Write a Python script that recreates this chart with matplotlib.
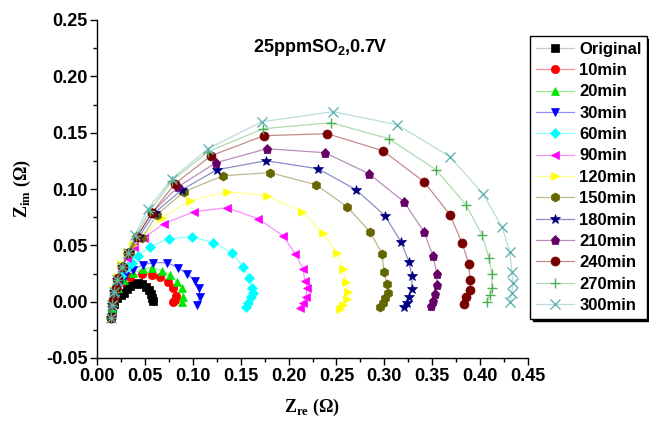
import matplotlib
matplotlib.use("Agg")
import matplotlib.pyplot as plt
from matplotlib.colors import to_rgba
from matplotlib.ticker import MultipleLocator, FormatStrFormatter

plt.rcParams['mathtext.fontset'] = 'custom'
plt.rcParams['mathtext.rm'] = 'Liberation Serif'
plt.rcParams['mathtext.bf'] = 'Liberation Serif:bold'

labels = ['Original', '10min', '20min', '30min', '60min', '90min', '120min',
          '150min', '180min', '210min', '240min', '270min', '300min']

x_orig = [0.0146, 0.0157, 0.0177, 0.0209, 0.0250, 0.0282, 0.0313, 0.0344, 0.0386, 0.0428, 0.0470, 0.0511, 0.0543, 0.0564, 0.0574, 0.0585]
y_orig = [-0.0142, -0.0080, -0.0018, 0.0035, 0.0062, 0.0080, 0.0115, 0.0142, 0.0160, 0.0169, 0.0160, 0.0133, 0.0106, 0.0071, 0.0035, 0.0009]

x_10 = [0.0146, 0.0157, 0.0177, 0.0209, 0.0261, 0.0344, 0.0470, 0.0574, 0.0658, 0.0741, 0.0793, 0.0825, 0.0814, 0.0793]
y_10 = [-0.0142, -0.0053, 0.0035, 0.0115, 0.0177, 0.0222, 0.0248, 0.0240, 0.0222, 0.0177, 0.0124, 0.0053, 0.0018, 0.0000]

x_20 = [0.0146, 0.0157, 0.0177, 0.0219, 0.0282, 0.0376, 0.0480, 0.0574, 0.0678, 0.0762, 0.0835, 0.0887, 0.0898, 0.0887]
y_20 = [-0.0142, -0.0053, 0.0035, 0.0124, 0.0195, 0.0257, 0.0293, 0.0302, 0.0275, 0.0240, 0.0177, 0.0124, 0.0044, 0.0000]

x_30 = [0.0146, 0.0157, 0.0188, 0.0230, 0.0292, 0.0376, 0.0480, 0.0585, 0.0731, 0.0846, 0.0939, 0.1023, 0.1065, 0.1075, 0.1044]
y_30 = [-0.0142, -0.0035, 0.0062, 0.0151, 0.0231, 0.0284, 0.0328, 0.0346, 0.0346, 0.0302, 0.0248, 0.0186, 0.0124, 0.0044, -0.0027]

x_60 = [0.0146, 0.0157, 0.0177, 0.0209, 0.0250, 0.0303, 0.0365, 0.0428, 0.0553, 0.0752, 0.0992, 0.1211, 0.1409, 0.1524, 0.1587, 0.1618, 0.1628, 0.1608, 0.1576, 0.1555]
y_60 = [-0.0142, -0.0035, 0.0062, 0.0151, 0.0231, 0.0302, 0.0346, 0.0408, 0.0488, 0.0559, 0.0577, 0.0524, 0.0435, 0.0311, 0.0213, 0.0124, 0.0080, 0.0044, -0.0009, -0.0044]

x_90 = [0.0146, 0.0157, 0.0177, 0.0209, 0.0250, 0.0313, 0.0386, 0.0491, 0.0699, 0.1013, 0.1357, 0.1681, 0.1942, 0.2067, 0.2150, 0.2171, 0.2192, 0.2182, 0.2150, 0.2119]
y_90 = [-0.0142, -0.0027, 0.0089, 0.0195, 0.0302, 0.0390, 0.0488, 0.0568, 0.0692, 0.0799, 0.0834, 0.0736, 0.0586, 0.0426, 0.0293, 0.0186, 0.0124, 0.0044, -0.0009, -0.0053]

x_120 = [0.0146, 0.0157, 0.0177, 0.0209, 0.0250, 0.0313, 0.0376, 0.0480, 0.0678, 0.0971, 0.1357, 0.1775, 0.2140, 0.2359, 0.2505, 0.2568, 0.2599, 0.2620, 0.2610, 0.2568, 0.2537]
y_120 = [-0.0142, -0.0018, 0.0106, 0.0222, 0.0337, 0.0444, 0.0506, 0.0577, 0.0745, 0.0896, 0.0976, 0.0941, 0.0799, 0.0612, 0.0435, 0.0293, 0.0177, 0.0089, 0.0027, -0.0027, -0.0062]

x_150 = [0.0146, 0.0157, 0.0177, 0.0209, 0.0261, 0.0344, 0.0470, 0.0626, 0.0908, 0.1315, 0.1806, 0.2286, 0.2610, 0.2850, 0.2975, 0.2996, 0.3027, 0.3038, 0.3006, 0.2985, 0.2954]
y_150 = [-0.0142, -0.0027, 0.0089, 0.0195, 0.0311, 0.0444, 0.0568, 0.0772, 0.0976, 0.1118, 0.1145, 0.1038, 0.0843, 0.0621, 0.0426, 0.0266, 0.0160, 0.0080, 0.0035, -0.0009, -0.0044]

x_180 = [0.0146, 0.0157, 0.0177, 0.0209, 0.0261, 0.0334, 0.0438, 0.0605, 0.0887, 0.1253, 0.1764, 0.2307, 0.2704, 0.3006, 0.3173, 0.3257, 0.3288, 0.3288, 0.3257, 0.3236, 0.3205]
y_180 = [-0.0142, -0.0027, 0.0089, 0.0195, 0.0311, 0.0435, 0.0577, 0.0790, 0.0994, 0.1171, 0.1251, 0.1180, 0.0994, 0.0763, 0.0532, 0.0355, 0.0231, 0.0115, 0.0044, -0.0009, -0.0044]

x_210 = [0.0146, 0.0157, 0.0177, 0.0209, 0.0261, 0.0324, 0.0418, 0.0574, 0.0846, 0.1242, 0.1775, 0.2380, 0.2839, 0.3205, 0.3413, 0.3507, 0.3549, 0.3549, 0.3528, 0.3507, 0.3486]
y_210 = [-0.0142, -0.0027, 0.0089, 0.0195, 0.0311, 0.0435, 0.0577, 0.0790, 0.1020, 0.1233, 0.1358, 0.1322, 0.1136, 0.0887, 0.0621, 0.0408, 0.0248, 0.0151, 0.0071, 0.0009, -0.0035]

x_240 = [0.0146, 0.0167, 0.0198, 0.0219, 0.0271, 0.0324, 0.0418, 0.0574, 0.0814, 0.1190, 0.1743, 0.2401, 0.2985, 0.3413, 0.3685, 0.3810, 0.3883, 0.3894, 0.3894, 0.3852, 0.3831]
y_240 = [-0.0142, 0.0018, 0.0124, 0.0213, 0.0311, 0.0435, 0.0577, 0.0790, 0.1047, 0.1295, 0.1473, 0.1491, 0.1340, 0.1065, 0.0772, 0.0524, 0.0337, 0.0195, 0.0106, 0.0044, -0.0018]

x_270 = [0.0146, 0.0157, 0.0177, 0.0209, 0.0261, 0.0324, 0.0407, 0.0553, 0.0783, 0.1159, 0.1733, 0.2443, 0.3048, 0.3539, 0.3852, 0.4019, 0.4092, 0.4123, 0.4123, 0.4102, 0.4071]
y_270 = [-0.0142, -0.0027, 0.0089, 0.0195, 0.0311, 0.0435, 0.0586, 0.0807, 0.1074, 0.1331, 0.1535, 0.1588, 0.1446, 0.1171, 0.0861, 0.0594, 0.0390, 0.0248, 0.0124, 0.0062, 0.0000]

x_300 = [0.0146, 0.0157, 0.0177, 0.0209, 0.0261, 0.0324, 0.0397, 0.0532, 0.0783, 0.1159, 0.1722, 0.2463, 0.3132, 0.3685, 0.4029, 0.4228, 0.4311, 0.4332, 0.4342, 0.4332, 0.4311]
y_300 = [-0.0142, -0.0027, 0.0089, 0.0195, 0.0311, 0.0435, 0.0594, 0.0825, 0.1091, 0.1358, 0.1597, 0.1686, 0.1571, 0.1287, 0.0958, 0.0665, 0.0444, 0.0266, 0.0169, 0.0080, 0.0000]

xs = [x_orig, x_10, x_20, x_30, x_60, x_90, x_120, x_150, x_180, x_210, x_240, x_270, x_300]
ys = [y_orig, y_10, y_20, y_30, y_60, y_90, y_120, y_150, y_180, y_210, y_240, y_270, y_300]

colors = ['#000000', '#ff0000', '#00e600', '#0000ff', '#00ffff', '#ff00ff', '#ffff00',
          '#666600', '#000080', '#660066', '#7a0000', '#4caf50', '#66b3b3']
markers = ['s', 'o', '^', 'v', 'D', '<', '>', 'h', '*', 'p', 'o', '+', 'x']
msizes = [5.5, 6, 6, 6, 5, 6, 6, 6.5, 7, 6.5, 6.5, 7, 7]

fig = plt.figure(figsize=(6.49, 4.26), dpi=100)
ax = fig.add_axes([97/649, 1-358/426, (528-97)/649, (358-20)/426])

for x, y, lab, c, m, ms in zip(xs, ys, labels, colors, markers, msizes):
    lc = to_rgba('#888888' if lab == 'Original' else c, 0.45)
    ax.plot(x, y, color=lc, lw=0.9, marker=m, ms=ms, mfc=c, mec=c,
            mew=1.0 if m in ('+', 'x') else 0.5, label=lab)

ax.set_xlim(0, 0.45)
ax.set_ylim(-0.05, 0.25)
ax.xaxis.set_major_locator(MultipleLocator(0.05))
ax.xaxis.set_minor_locator(MultipleLocator(0.025))
ax.yaxis.set_major_locator(MultipleLocator(0.05))
ax.yaxis.set_minor_locator(MultipleLocator(0.025))
ax.xaxis.set_major_formatter(FormatStrFormatter('%.2f'))
ax.yaxis.set_major_formatter(FormatStrFormatter('%.2f'))
ax.spines['top'].set_visible(False)
ax.spines['right'].set_visible(False)
for s in ('left', 'bottom'):
    ax.spines[s].set_linewidth(1.0)
ax.tick_params(which='major', direction='out', length=5, width=1, labelsize=13, pad=2)
ax.tick_params(which='minor', direction='out', length=3, width=1)
for t in ax.get_xticklabels() + ax.get_yticklabels():
    t.set_fontweight('bold')
    t.set_fontfamily('Liberation Sans')

ax.set_xlabel(r'Z$_{\mathbf{re}}$ (Ω)', fontfamily='Liberation Serif', fontweight='bold', fontsize=13, labelpad=9)
ax.set_ylabel(r'Z$_{\mathbf{im}}$ (Ω)', fontfamily='Liberation Serif', fontweight='bold', fontsize=13, labelpad=9)

fig.text(320/649, 1-47/426, r'25ppmSO$_\mathregular{2}$,0.7V', ha='center', va='center',
         fontsize=13, fontweight='bold', fontfamily='Liberation Sans')

leg = fig.legend(loc='upper left', bbox_to_anchor=(530/649, 1-36/426),
                 frameon=True, fancybox=False, shadow={'color': 'black', 'alpha': 1},
                 handlelength=2.3, labelspacing=0.38, borderpad=0.35, handletextpad=0.3,
                 borderaxespad=0, prop={'weight': 'bold', 'family': 'Liberation Sans', 'size': 12})
leg.get_frame().set_edgecolor('black')
leg.get_frame().set_linewidth(1.0)

fig.savefig('out.png', dpi=100)
